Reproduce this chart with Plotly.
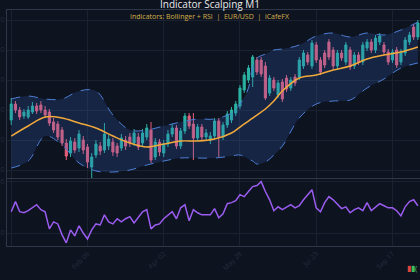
import plotly.graph_objects as go
from plotly.subplots import make_subplots

# ---------------- data ----------------
idx = list(range(97))
open_ = [1.0890,1.0906,1.0900,1.0894,1.0893,1.0898,1.0904,1.0905,1.0900,1.0898,
         1.0888,1.0886,1.0880,1.0867,1.0857,1.0868,1.0862,1.0870,1.0863,1.0843,
         1.0855,1.0864,1.0860,1.0864,1.0868,1.0864,1.0862,1.0870,1.0873,1.0867,
         1.0873,1.0867,1.0873,1.0880,1.0853,1.0868,1.0857,1.0866,1.0876,1.0882,
         1.0864,1.0879,1.0894,1.0886,1.0872,1.0883,1.0873,1.0870,1.0874,1.0889,
         1.0873,1.0885,1.0890,1.0897,1.0904,1.0920,1.0930,1.0933,1.0950,1.0950,
         1.0944,1.0917,1.0930,1.0915,1.0928,1.0932,1.0922,1.0933,1.0933,1.0944,
         1.0955,1.0944,1.0965,1.0950,1.0957,1.0968,1.0960,1.0944,1.0957,1.0948,
         1.0960,1.0944,1.0955,1.0948,1.0962,1.0968,1.0960,1.0968,1.0965,1.0958,
         1.0950,1.0960,1.0948,1.0957,1.0968,1.0983,1.0973]
close = [1.0906,1.0900,1.0893,1.0898,1.0900,1.0904,1.0899,1.0900,1.0895,1.0887,
         1.0880,1.0873,1.0867,1.0854,1.0869,1.0860,1.0876,1.0860,1.0848,1.0853,
         1.0866,1.0859,1.0876,1.0871,1.0858,1.0857,1.0872,1.0864,1.0867,1.0877,
         1.0863,1.0877,1.0882,1.0850,1.0868,1.0858,1.0866,1.0876,1.0882,1.0864,
         1.0879,1.0894,1.0884,1.0872,1.0883,1.0873,1.0877,1.0874,1.0889,1.0873,
         1.0885,1.0896,1.0900,1.0906,1.0922,1.0935,1.0942,1.0953,1.0938,1.0936,
         1.0912,1.0932,1.0922,1.0927,1.0911,1.0921,1.0930,1.0927,1.0950,1.0957,
         1.0948,1.0967,1.0950,1.0938,1.0945,1.0953,1.0944,1.0957,1.0952,1.0965,
         1.0943,1.0955,1.0948,1.0965,1.0968,1.0960,1.0972,1.0974,1.0958,1.0948,
         1.0958,1.0945,1.0958,1.0970,1.0975,1.0973,1.0987]
high = [1.0912,1.0909,1.0903,1.0901,1.0904,1.0908,1.0907,1.0909,1.0904,1.0901,
        1.0892,1.0889,1.0883,1.0871,1.0873,1.0872,1.0880,1.0874,1.0866,1.0857,
        1.0870,1.0868,1.0887,1.0875,1.0872,1.0867,1.0876,1.0874,1.0877,1.0881,
        1.0877,1.0881,1.0886,1.0888,1.0872,1.0871,1.0870,1.0880,1.0886,1.0885,
        1.0882,1.0897,1.0897,1.0897,1.0886,1.0886,1.0881,1.0878,1.0892,1.0892,
        1.0888,1.0899,1.0903,1.0909,1.0925,1.0938,1.0945,1.0955,1.0953,1.0953,
        1.0948,1.0935,1.0933,1.0930,1.0931,1.0935,1.0933,1.0936,1.0953,1.0960,
        1.0958,1.0970,1.0968,1.0953,1.0960,1.0971,1.0963,1.0960,1.0960,1.0968,
        1.0963,1.0958,1.0958,1.0968,1.0971,1.0971,1.0975,1.0977,1.0968,1.0961,
        1.0961,1.0963,1.0961,1.0973,1.0978,1.0986,1.0990]
low = [1.0885,1.0897,1.0890,1.0891,1.0891,1.0896,1.0896,1.0897,1.0892,1.0884,
       1.0877,1.0870,1.0864,1.0850,1.0853,1.0857,1.0858,1.0856,1.0842,1.0832,
       1.0852,1.0855,1.0857,1.0860,1.0854,1.0853,1.0859,1.0860,1.0863,1.0864,
       1.0860,1.0864,1.0870,1.0847,1.0850,1.0854,1.0853,1.0863,1.0873,1.0861,
       1.0861,1.0876,1.0881,1.0850,1.0869,1.0870,1.0870,1.0866,1.0871,1.0853,
       1.0870,1.0882,1.0887,1.0894,1.0901,1.0917,1.0927,1.0923,1.0935,1.0933,
       1.0910,1.0914,1.0919,1.0912,1.0908,1.0918,1.0919,1.0924,1.0930,1.0941,
       1.0945,1.0941,1.0947,1.0935,1.0942,1.0950,1.0941,1.0941,1.0949,1.0945,
       1.0940,1.0941,1.0945,1.0945,1.0959,1.0957,1.0957,1.0965,1.0955,1.0945,
       1.0947,1.0942,1.0945,1.0954,1.0965,1.0970,1.0970]

band_x = [0,4,8,12,16,20,24,28,32,36,40,44,48,52,54,56,57,58,60,62,64,68,72,76,80,84,88,92,96]
bb_upper = [1.0911,1.0914,1.0911,1.0911,1.0919,1.0919,1.0895,1.0880,1.0880,1.0884,
            1.0888,1.0891,1.0891,1.0897,1.0906,1.0922,1.0944,1.0952,1.0956,1.0960,
            1.0961,1.0965,1.0974,1.0977,1.0973,1.0977,1.0975,1.0980,1.0988]
bb_lower = [1.0842,1.0849,1.0874,1.0865,1.0847,1.0839,1.0838,1.0840,1.0845,1.0849,
            1.0852,1.0852,1.0852,1.0854,1.0855,1.0851,1.0849,1.0846,1.0848,1.0855,
            1.0864,1.0892,1.0906,1.0909,1.0910,1.0922,1.0931,1.0942,1.0947]
sma = [1.0874,1.0884,1.0893,1.0892,1.0887,1.0882,1.0874,1.0867,1.0863,1.0866,
       1.0869,1.0869,1.0871,1.0877,1.0883,1.0889,1.0892,1.0895,1.0901,1.0909,
       1.0919,1.0932,1.0935,1.0940,1.0944,1.0951,1.0955,1.0958,1.0963]

rsi = [48.2,52.1,48.2,47.8,48.6,49.7,50.9,49.0,48.2,41.6,
       44.3,43.5,39.3,36.2,41.2,38.9,42.8,40.0,37.7,41.2,
       43.5,43.1,47.0,44.3,43.5,45.5,44.3,45.5,46.3,43.9,
       46.3,48.2,49.0,41.6,43.1,43.5,45.5,47.0,48.2,45.5,
       49.7,50.9,44.7,49.0,47.8,47.0,47.0,47.0,49.4,45.9,
       47.4,51.3,51.7,52.5,54.8,54.0,56.0,57.9,58.3,59.8,
       56.0,52.8,48.6,50.1,49.0,50.1,50.9,49.7,50.5,52.8,
       54.8,56.7,49.7,48.2,51.7,54.0,52.8,50.9,49.4,50.1,
       47.8,49.0,49.7,48.6,51.7,48.6,50.1,51.3,50.5,49.7,
       49.7,48.6,46.6,50.1,52.1,52.8,50.5]

tick_pos = [0, 18, 36, 54, 72, 90]
tick_text = ["Dec 11", "Feb 06", "Apr 02", "May 28", "Jul 23", "Sep 17"]

# ---------------- style ----------------
BG = "#0e1320"
GRID = "#1a2131"
FRAME = "#2e3648"
TICKC = "#262d3d"

fig = make_subplots(rows=2, cols=1, shared_xaxes=True, vertical_spacing=0.0)

fig.add_trace(go.Scatter(x=band_x, y=bb_upper, mode="lines", line_shape="spline",
                         line=dict(color="#4d7fd6", width=1, dash="dash"),
                         showlegend=False, hoverinfo="skip"), row=1, col=1)
fig.add_trace(go.Scatter(x=band_x, y=bb_lower, mode="lines", line_shape="spline",
                         line=dict(color="#4d7fd6", width=1, dash="dash"),
                         fill="tonexty", fillcolor="rgba(55,105,195,0.22)",
                         showlegend=False, hoverinfo="skip"), row=1, col=1)
fig.add_trace(go.Candlestick(x=idx, open=open_, high=high, low=low, close=close,
                             increasing=dict(line=dict(color="#2bb3a3", width=1), fillcolor="#2bb3a3"),
                             decreasing=dict(line=dict(color="#e8607a", width=1), fillcolor="#e8607a"),
                             whiskerwidth=0, showlegend=False), row=1, col=1)
fig.add_trace(go.Scatter(x=band_x, y=sma, mode="lines", line_shape="spline",
                         line=dict(color="#f2a93b", width=1.5),
                         showlegend=False, hoverinfo="skip"), row=1, col=1)
fig.add_trace(go.Scatter(x=idx, y=rsi, mode="lines",
                         line=dict(color="#9b5cf0", width=1.5),
                         showlegend=False), row=2, col=1)

axis_common = dict(showline=True, linecolor=FRAME, linewidth=1, mirror=True,
                   gridcolor=GRID, gridwidth=1, zeroline=False, automargin=False,
                   tickfont=dict(size=7, color=TICKC), ticks="")

fig.update_layout(
    width=420, height=280,
    paper_bgcolor=BG, plot_bgcolor=BG,
    margin=dict(l=7, r=0, t=10, b=34),
    font=dict(family="Open Sans", color="#e6e6e6"),
    title=dict(text="Indicator Scalping M1", x=0.5, xanchor="center",
               y=0.983, yanchor="middle", automargin=False,
               font=dict(size=10, color="#eaeaea")),
    xaxis=dict(axis_common, range=[-1, 96.5], tickvals=tick_pos, ticktext=tick_text,
               showticklabels=False, rangeslider=dict(visible=False)),
    xaxis2=dict(axis_common, range=[-1, 96.5], tickvals=tick_pos, ticktext=tick_text,
                tickangle=-45),
    yaxis=dict(axis_common, domain=[0.288, 1.0], range=[1.0832, 1.1000],
               tick0=1.084, dtick=0.003, tickformat=".4f"),
    yaxis2=dict(axis_common, domain=[0.0, 0.286], range=[35, 61], dtick=20),
    annotations=[
        dict(text="Indicators: Bollinger + RSI  |  EUR/USD  |  iCafeFX",
             xref="paper", yref="paper", x=0.4915, y=0.972,
             xanchor="center", yanchor="middle", showarrow=False,
             font=dict(size=7, color="#d6b24a")),
        dict(text="<span style='color:#e0443e'>▮</span><span style='color:#3fbf5a'>▮(</span>",
             xref="paper", yref="paper", x=1.0, y=-0.09,
             xanchor="right", yanchor="middle", showarrow=False,
             font=dict(size=8)),
    ],
)

fig.write_html("out.html")
